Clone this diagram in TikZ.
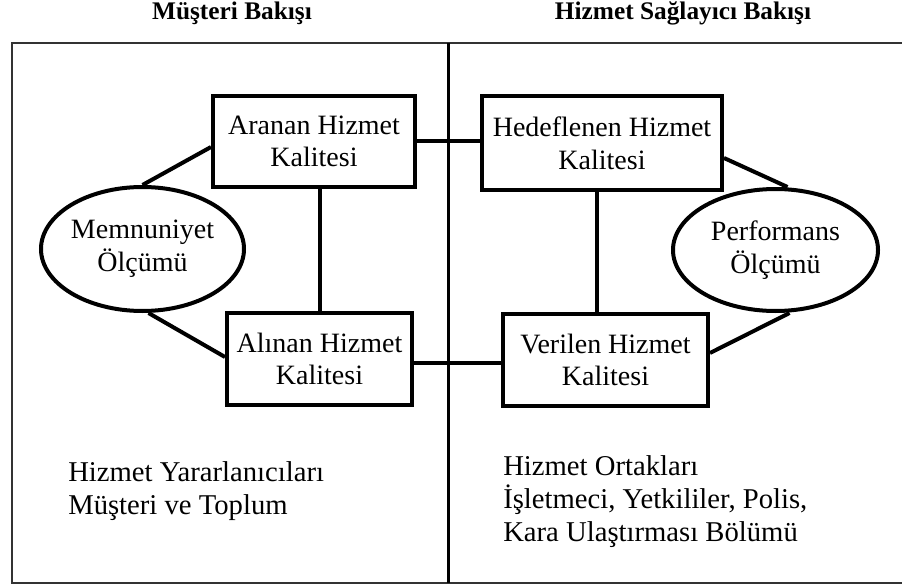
\documentclass[tikz,border=0pt]{standalone}
\usepackage{fontspec}
\setmainfont{Liberation Serif}
\usetikzlibrary{shapes.geometric}
\newdimen\px \px=0.75pt
\begin{document}
\begin{tikzpicture}[x=0.75pt,y=-0.75pt,
  txt/.style={font=\fontsize{21}{24.5}\selectfont},
  qbox/.style={txt, draw, line width=4\px, rectangle, align=center, inner sep=0pt},
  qell/.style={txt, draw, line width=4\px, ellipse, align=center, inner sep=0pt},
  link/.style={line width=4\px},
  frameline/.style={line width=2.5\px, draw=black!80},
  title/.style={font=\fontsize{19}{22}\selectfont\bfseries, anchor=base, inner sep=0pt},
  note/.style={font=\fontsize{21.5}{24.5}\selectfont, anchor=base west, align=left, inner sep=0pt}]
\useasboundingbox (0,0) rectangle (902,588);
% frame
\draw[frameline] (902,43) -- (12,43) -- (12,583) -- (902,583);
\draw[line width=3\px] (448,43) -- (448,583);
% titles
\node[title] (t1) at (232,20) {Müşteri Bakışı};
\node[title] (t2) at (683,20) {Hizmet Sağlayıcı Bakışı};
% boxes
\node[qbox, minimum width=202\px, minimum height=91\px] (aranan) at (314,141.5) {Aranan Hizmet\\Kalitesi};
\node[qbox, minimum width=185\px, minimum height=92\px] (alinan) at (319.5,359) {Alınan Hizmet\\Kalitesi};
\node[qbox, minimum width=240\px, minimum height=94\px] (hedef) at (602,143) {Hedeflenen Hizmet\\Kalitesi};
\node[qbox, minimum width=205\px, minimum height=92\px] (verilen) at (605.5,360) {Verilen Hizmet\\Kalitesi};
% ellipses
\node[qell, minimum width=203\px, minimum height=124\px] (memn) at (142.5,249) {Memnuniyet\\Ölçümü};
\node[qell, minimum width=205\px, minimum height=122\px] (perf) at (775.5,250) {Performans\\Ölçümü};
% connectors
\draw[link] (memn.north) -- ([yshift=-5.5\px]aranan.west);
\draw[link] ([xshift=6\px]memn.south) -- ([yshift=2\px]alinan.west);
\draw[link] (alinan.north) -- (alinan.north |- aranan.south);
\draw[link] ([xshift=-5\px]hedef.south) -- ([xshift=-5\px]hedef.south |- verilen.north);
\draw[link] ([yshift=-15\px]hedef.east) -- ([xshift=12\px]perf.north);
\draw[link] ([yshift=7\px]verilen.east) -- ([xshift=14\px]perf.south);
\draw[link] (aranan.east) -- (aranan.east -| hedef.west);
\draw[link] ([yshift=-4\px]alinan.east) -- ([yshift=-4\px]alinan.east -| verilen.west);
% bottom notes (base = last line)
\node[note] (n1) at (68,514) {Hizmet Yararlanıcıları\\Müşteri ve Toplum};
\node[note] (n2) at (503,541) {Hizmet Ortakları\\İşletmeci, Yetkililer, Polis,\\Kara Ulaştırması Bölümü};
\end{tikzpicture}
\end{document}
